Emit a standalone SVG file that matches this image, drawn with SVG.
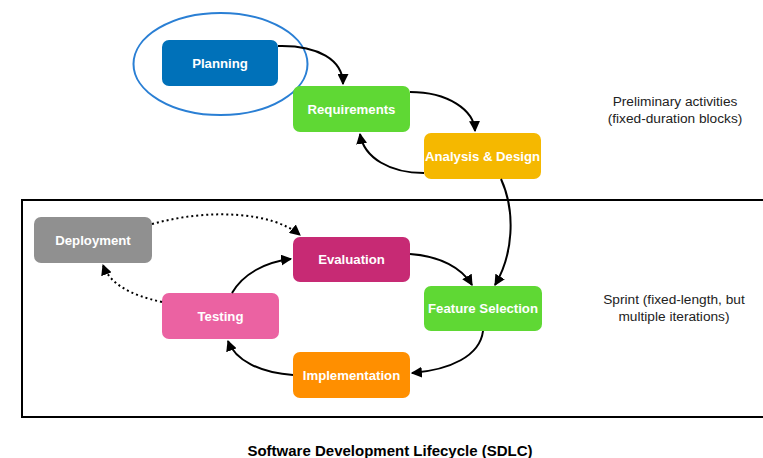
<svg xmlns="http://www.w3.org/2000/svg" width="763" height="458" viewBox="0 0 763 458">
<style>
.t{font-family:"Liberation Sans",Arial,sans-serif;font-weight:bold;font-size:13.2px;fill:#fff;text-anchor:middle}
.c{fill:none;stroke:#000;stroke-width:2}
.d{fill:none;stroke:#000;stroke-width:2;stroke-dasharray:2 3}
.note{font-family:"Liberation Sans",Arial,sans-serif;font-size:13.7px;fill:#222;text-anchor:middle}
</style>
<defs>
<marker id="ah" viewBox="0 0 10 10" refX="9" refY="5" markerWidth="5.5" markerHeight="5.5" orient="auto" markerUnits="strokeWidth">
<path d="M0,0 L10,5 L0,10 z" fill="#000"/>
</marker>
</defs>
<rect width="763" height="458" fill="#fff"/>
<g id="sprint-box">
<path d="M765,200 L22,200 L22,417 L765,417" fill="none" stroke="#000" stroke-width="2"/>
</g>
<g id="planning">
<rect x="162" y="40" width="116" height="46" rx="7" fill="#0071b9"/>
<text class="t" x="220" y="68">Planning</text>
</g>
<g id="planning-ellipse">
<ellipse cx="220.5" cy="64" rx="87" ry="51" fill="none" stroke="#2a7fd4" stroke-width="2"/>
</g>
<g id="requirements">
<rect x="293" y="86" width="117" height="46" rx="7" fill="#5fd834"/>
<text class="t" x="351.5" y="114">Requirements</text>
</g>
<g id="analysis">
<rect x="424" y="133" width="117" height="46" rx="7" fill="#f5b800"/>
<text class="t" x="482.5" y="161">Analysis &amp; Design</text>
</g>
<g id="deployment">
<rect x="34" y="217" width="118" height="46" rx="7" fill="#909090"/>
<text class="t" x="93" y="245">Deployment</text>
</g>
<g id="evaluation">
<rect x="293" y="237" width="117" height="45" rx="7" fill="#c72a74"/>
<text class="t" x="351.5" y="264">Evaluation</text>
</g>
<g id="testing">
<rect x="162" y="293" width="117" height="46" rx="7" fill="#eb62a2"/>
<text class="t" x="220.5" y="321">Testing</text>
</g>
<g id="feature-selection">
<rect x="424" y="286" width="118" height="45" rx="7" fill="#5fd834"/>
<text class="t" x="483" y="313">Feature Selection</text>
</g>
<g id="implementation">
<rect x="293" y="352" width="117" height="46" rx="7" fill="#ff8f00"/>
<text class="t" x="351.5" y="380">Implementation</text>
</g>
<g id="connectors">
<path class="c" d="M278,46 C318,45 343,60 343,84" marker-end="url(#ah)"/>
<path class="c" d="M410,92 C448,92 474,110 475,131" marker-end="url(#ah)"/>
<path class="c" d="M424,173 C390,173 364,158 360,134" marker-end="url(#ah)"/>
<path class="c" d="M501,179 C516,212 513,255 495,285" marker-end="url(#ah)"/>
<path class="c" d="M410,254 C440,256 462,268 472,285" marker-end="url(#ah)"/>
<path class="c" d="M483,331 C480,356 450,370 412,373" marker-end="url(#ah)"/>
<path class="c" d="M293,375 C260,373 235,360 228,341" marker-end="url(#ah)"/>
<path class="c" d="M232,293 C243,274 265,262 291,259" marker-end="url(#ah)"/>
<path class="d" d="M152,224 C210,208 272,212 300,235" marker-end="url(#ah)"/>
<path class="d" d="M162,302 C130,295 110,284 103,265" marker-end="url(#ah)"/>
</g>
<g id="labels">
<text class="note" x="675" y="106">Preliminary activities</text>
<text class="note" x="675" y="123">(fixed-duration blocks)</text>
<text class="note" x="674" y="304">Sprint (fixed-length, but</text>
<text class="note" x="674" y="321">multiple iterations)</text>
<text x="390" y="456" font-family="'Liberation Sans',Arial,sans-serif" font-weight="bold" font-size="15" fill="#000" text-anchor="middle">Software Development Lifecycle (SDLC)</text>
</g>
</svg>
